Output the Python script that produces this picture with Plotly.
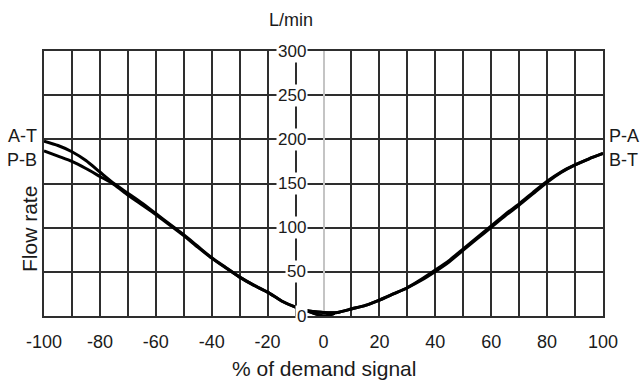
import plotly.graph_objects as go

# ---- data ----
x_left = [-100, -95, -90, -85, -80, -75, -70, -65, -60, -55, -50, -45, -40, -35, -30, -25, -20, -15, -10, -6, 0, 4]
a_t = [198, 193, 186, 176, 163, 150, 139, 128, 116, 104, 92, 79, 66, 55, 44, 35, 27, 17, 10, 6, 0, 3]
p_b = [187, 181, 175, 167, 158, 149, 137, 126, 115, 103, 91, 78, 65.5, 54.5, 44, 35, 27, 17, 10, 6, 0, 3]

x_right = [-6, 0, 5, 10, 15, 20, 25, 30, 35, 40, 45, 50, 55, 60, 65, 70, 75, 80, 85, 90, 95, 100]
p_a = [6, 4, 4, 8, 12, 18, 25, 32, 41.5, 52, 63, 76, 89, 102, 115, 127, 140, 152.5, 163, 171, 178, 184]
b_t = [6, 4, 4, 8, 12, 18, 25, 32, 40.5, 50.5, 61.5, 74.5, 87.5, 100.5, 113.5, 125.5, 138.5, 151.5, 162.5, 171, 178, 184]

x_ticks = [-100, -80, -60, -40, -20, 0, 20, 40, 60, 80, 100]
x_tick_text = ["-100", "-80", "-60", "-40", "-20", "0", "20", "40", "60", "80", "100"]
y_ticks = [0, 50, 100, 150, 200, 250, 300]

FONT = "Arial, Liberation Sans, sans-serif"
TXT = "#1a1a1a"
GRID = "#2e2e2e"

fig = go.Figure()
line_style = dict(color="black", width=3, shape="spline", smoothing=0.6)
for name, xs, ys in [("A-T", x_left, a_t), ("P-B", x_left, p_b),
                     ("P-A", x_right, p_a), ("B-T", x_right, b_t)]:
    fig.add_trace(go.Scatter(x=xs, y=ys, mode="lines", name=name,
                             line=line_style, showlegend=False, hoverinfo="skip"))

annotations = []
for v in y_ticks:
    annotations.append(dict(x=-5.6, y=v, xref="x", yref="y", text=str(v),
                            showarrow=False, xanchor="right", yanchor="middle",
                            bgcolor="white", borderpad=1,
                            font=dict(family=FONT, size=17, color=TXT)))
# series labels
lab_font = dict(family=FONT, size=18, color=TXT)
annotations += [
    dict(x=-100, y=200, xref="x", yref="y", text="A-T", showarrow=False,
         xanchor="right", xshift=-5, yanchor="bottom", yshift=-9, font=lab_font),
    dict(x=-100, y=200, xref="x", yref="y", text="P-B", showarrow=False,
         xanchor="right", xshift=-5, yanchor="top", yshift=-9, font=lab_font),
    dict(x=100, y=200, xref="x", yref="y", text="P-A", showarrow=False,
         xanchor="left", xshift=4, yanchor="bottom", yshift=-9, font=lab_font),
    dict(x=100, y=200, xref="x", yref="y", text="B-T", showarrow=False,
         xanchor="left", xshift=4, yanchor="top", yshift=-9, font=lab_font),
    dict(x=-11.6, y=1.117, xref="x", yref="paper", text="L/min", showarrow=False,
         xanchor="center", yanchor="middle", font=dict(family=FONT, size=18, color=TXT)),
    dict(x=0, y=0, xref="x", yref="paper", text="% of demand signal", showarrow=False,
         xanchor="center", yanchor="middle", yshift=-52, font=dict(family=FONT, size=21, color=TXT)),
    dict(x=-0.027, y=0.328, xref="paper", yref="paper", text="Flow rate", showarrow=False,
         textangle=-90, xanchor="center", yanchor="middle", font=dict(family=FONT, size=21, color=TXT)),
]

fig.update_layout(
    width=641, height=383,
    margin=dict(l=44, r=38, t=51, b=67),
    paper_bgcolor="white", plot_bgcolor="white",
    annotations=annotations,
    xaxis=dict(range=[-100, 100], tickvals=x_ticks, ticktext=x_tick_text,
               showgrid=True, gridcolor=GRID, gridwidth=1.5,
               minor=dict(dtick=10, tick0=0, showgrid=True, gridcolor=GRID, gridwidth=1.5),
               zeroline=True, zerolinecolor="#c4c4c4", zerolinewidth=1.6,
               showline=True, mirror=True, linecolor=GRID, linewidth=1.5,
               ticks="", tickfont=dict(family=FONT, size=18, color=TXT), ticklabelstandoff=9),
    yaxis=dict(range=[0, 300], tickvals=y_ticks, showgrid=True, gridcolor=GRID, gridwidth=1.5,
               zeroline=False, showline=True, mirror=True, linecolor=GRID, linewidth=1.5,
               showticklabels=False, ticks=""),
)

fig.write_html("out.html")
